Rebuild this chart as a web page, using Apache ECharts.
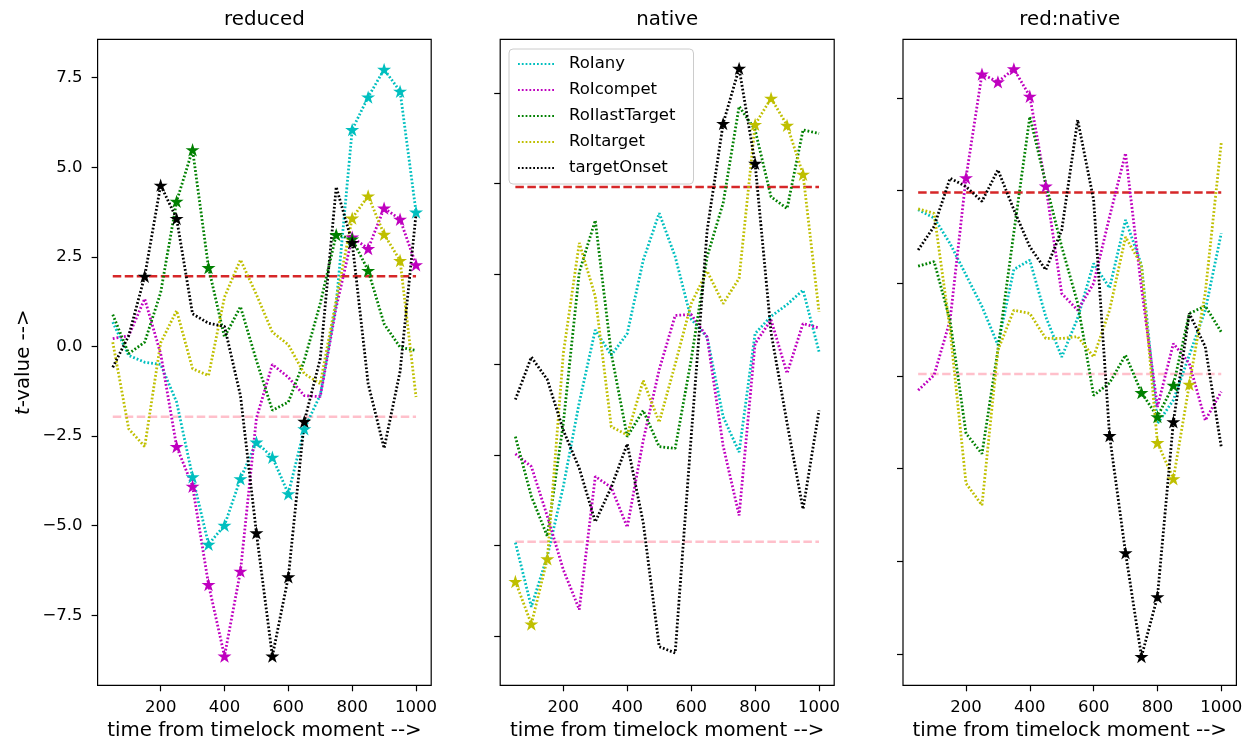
<!DOCTYPE html>
<html>
<head>
<meta charset="utf-8">
<title>t-values per time point</title>
<script src="https://cdn.jsdelivr.net/npm/echarts@6/dist/echarts.min.js"></script>
<style>
  html, body { margin: 0; padding: 0; background: #fff; }
  #chart { width: 1249px; height: 742px; }
</style>
</head>
<body>
<div id="chart"></div>
<script>
// time points (ms from timelock moment)
const times = [50, 100, 150, 200, 250, 300, 350, 400, 450, 500,
               550, 600, 650, 700, 750, 800, 850, 900, 950, 1000];

const seriesNames = ['RoIany', 'RoIcompet', 'RoIlastTarget', 'RoItarget', 'targetOnset'];

// tick values
const xTicks = [200, 400, 600, 800, 1000];
const reducedYTicks = [-7.5, -5, -2.5, 0, 2.5, 5, 7.5];
const nativeYTicks = [-3, -2, -1, 0, 1, 2, 3];
const ratioYTicks = [-8, -6, -4, -2, 0, 2, 4];

// significance threshold (dashed lines)
const threshold = 1.96;

// --- reduced ---
const reducedAny    = [0.68, -0.25, -0.44, -0.5, -1.55, -3.64, -5.52, -4.99, -3.69, -2.67, -3.09, -4.11, -2.3, -1.35, 1.2, 6.05, 6.96, 7.73, 7.12, 3.75];
const reducedCompet = [0.22, 0.3, 1.33, -0.2, -2.79, -3.9, -6.64, -8.64, -6.27, -2.0, -0.5, -0.86, -1.37, -1.4, 1.1, 3.05, 2.73, 3.86, 3.55, 2.28];
const reducedLast   = [0.89, -0.2, 0.12, 1.5, 4.05, 5.49, 2.2, 0.26, 1.11, -0.39, -1.78, -1.55, -0.39, 1.2, 3.12, 3.0, 2.12, 0.63, -0.02, -0.11];
const reducedTarget = [0.12, -2.3, -2.79, 0.1, 1.0, -0.62, -0.81, 1.38, 2.42, 1.45, 0.4, 0.05, -0.76, -1.04, 1.3, 3.58, 4.2, 3.13, 2.4, -1.41];
const reducedOnset  = [-0.58, 0.3, 1.96, 4.5, 3.57, 0.91, 0.65, 0.56, -1.37, -5.2, -8.64, -6.43, -2.09, -0.34, 4.45, 2.9, -1.04, -2.84, -0.7, 3.7];
const reducedStars = [
  [300, 350, 400, 450, 500, 550, 600, 650, 800, 850, 900, 950, 1000],
  [250, 300, 350, 400, 450, 800, 850, 900, 950, 1000],
  [250, 300, 350, 750, 800, 850],
  [800, 850, 900, 950],
  [150, 200, 250, 500, 550, 600, 650, 800]
];

// --- native ---
const nativeAny    = [-1.97, -2.68, -2.12, -1.35, -0.42, 0.38, 0.1, 0.34, 1.15, 1.67, 1.19, 0.5, 0.3, -0.58, -0.97, 0.34, 0.53, 0.66, 0.82, 0.14];
const nativeCompet = [-0.99, -1.13, -1.68, -2.27, -2.71, -1.24, -1.36, -1.8, -0.84, -0.06, 0.54, 0.55, 0.3, -0.9, -1.67, 0.23, 0.49, -0.1, 0.45, 0.4];
const nativeLast   = [-0.8, -1.46, -1.9, -0.65, 1.02, 1.59, 0.12, -0.8, -0.51, -0.91, -0.93, 0.05, 1.19, 1.78, 2.85, 2.59, 1.85, 1.72, 2.59, 2.55];
const nativeTarget = [-2.4, -2.87, -2.15, 0.12, 1.34, 0.75, -0.69, -0.78, -0.18, -0.64, 0.0, 0.67, 1.03, 0.67, 0.95, 2.65, 2.94, 2.64, 2.1, 0.58];
const nativeOnset  = [-0.39, 0.08, -0.17, -0.73, -1.15, -1.74, -1.36, -0.88, -1.75, -3.12, -3.19, -0.8, 1.48, 2.66, 3.27, 2.22, 0.35, -0.65, -1.6, -0.51];
const nativeStars = [
  [],
  [],
  [],
  [50, 100, 150, 800, 850, 900, 950],
  [700, 750, 800]
];

// --- red:native ---
const ratioAny    = [1.59, 1.41, 0.86, 0.18, -0.5, -1.33, 0.3, 0.5, -0.72, -1.59, -0.75, 0.43, -0.1, 1.37, 0.4, -3.03, -2.52, -1.55, -0.58, 1.08];
const ratioCompet = [-2.31, -1.98, -0.8, 2.28, 4.52, 4.35, 4.63, 4.04, 2.1, -0.22, -0.58, 0.0, 1.44, 2.81, -0.1, -2.67, -1.3, -1.73, -2.96, -2.34];
const ratioLast   = [0.37, 0.47, -0.8, -3.24, -3.68, -1.44, 1.1, 3.6, 2.16, 0.79, -0.43, -2.42, -2.15, -1.55, -2.36, -2.88, -2.2, -0.65, -0.49, -1.05];
const ratioTarget = [1.61, 1.51, -1.0, -4.32, -4.79, -1.44, -0.58, -0.65, -1.19, -1.19, -1.15, -1.59, -0.58, 1.0, 0.4, -3.44, -4.22, -2.18, -0.2, 3.03];
const ratioOnset  = [0.72, 1.23, 2.27, 2.09, 1.77, 2.45, 1.59, 0.79, 0.29, 1.15, 3.53, 1.8, -3.29, -5.82, -8.06, -6.77, -2.99, -0.65, -1.37, -3.53];
const ratioStars = [
  [],
  [200, 250, 300, 350, 400, 450],
  [750, 800, 850],
  [800, 850, 900],
  [650, 700, 750, 800, 850]
];

const COLORS = ['#00bfbf', '#bf00bf', '#008000', '#bfbf00', '#000000'];
const FONT = 'DejaVu Sans';
const STAR = 'path://M50,0L61.2,34.5L97.6,34.5L68.2,55.9L79.4,90.5L50,69.1L20.6,90.5L31.8,55.9L2.4,34.5L38.8,34.5Z';

const panels = [
  { title: 'reduced', values: [reducedAny, reducedCompet, reducedLast, reducedTarget, reducedOnset],
    stars: reducedStars, yMin: -9.453, yMax: 8.571, yTicks: reducedYTicks, labels: true, left: 97.6, width: 333.6 },
  { title: 'native', values: [nativeAny, nativeCompet, nativeLast, nativeTarget, nativeOnset],
    stars: nativeStars, yMin: -3.547, yMax: 3.591, yTicks: nativeYTicks, labels: false, left: 500.2, width: 334 },
  { title: 'red:native', values: [ratioAny, ratioCompet, ratioLast, ratioTarget, ratioOnset],
    stars: ratioStars, yMin: -8.68, yMax: 5.27, yTicks: ratioYTicks, labels: false, left: 903, width: 333.4 }
];

const fmtTick = v => (v < 0 ? '\u2212' : '') + Math.abs(v).toFixed(1);

const chart = echarts.init(document.getElementById('chart'), null, { renderer: 'canvas' });

const series = [];
panels.forEach((p, i) => {
  // dashed threshold lines
  [[threshold, '#d62728'], [-threshold, '#ffc0cb']].forEach(([v, c]) => {
    series.push({
      type: 'line', name: 'thr' + i + v, xAxisIndex: i, yAxisIndex: i,
      data: [[times[0], v], [times[times.length - 1], v]],
      symbol: 'none', silent: true,
      lineStyle: { color: c, width: 2.5, type: [8.5, 3.5] }
    });
  });
  p.values.forEach((vals, j) => {
    series.push({
      type: 'line', name: seriesNames[j], xAxisIndex: i, yAxisIndex: i,
      data: times.map((t, k) => ({
        value: [t, vals[k]],
        symbol: p.stars[j].includes(t) ? STAR : 'none'
      })),
      symbol: 'none', showSymbol: true, symbolSize: 14, symbolKeepAspect: true,
      silent: true,
      lineStyle: { color: COLORS[j], width: 2.8, type: [1.8, 2.0], cap: 'butt' },
      itemStyle: { color: COLORS[j] },
      emphasis: { disabled: true }
    });
  });
});

const option = {
  animation: false,
  backgroundColor: '#fff',
  title: panels.map(p => ({
    text: p.title, left: p.left + p.width / 2, top: 10, textAlign: 'center', padding: 0,
    textStyle: { fontFamily: FONT, fontSize: 19.8, fontWeight: 'normal', color: '#000' }
  })),
  legend: {
    data: seriesNames,
    orient: 'vertical', left: 509, top: 49,
    itemWidth: 37, itemHeight: 14, itemGap: 8,
    padding: [6, 18, 7, 8],
    backgroundColor: 'rgba(255,255,255,0.8)',
    borderColor: '#cccccc', borderWidth: 1, borderRadius: 4,
    selectedMode: false,
    itemStyle: { opacity: 0 },
    textStyle: { fontFamily: FONT, fontSize: 16.5, color: '#000', lineHeight: 18, padding: [0, 0, 0, 9] }
  },
  grid: panels.map(p => ({
    left: p.left, top: 39.3, width: p.width, height: 646,
    outerBoundsMode: 'none', containLabel: false,
    show: true, borderColor: '#000', borderWidth: 1.2, backgroundColor: 'transparent'
  })),
  xAxis: panels.map((p, i) => ({
    gridIndex: i, type: 'value', min: 2.5, max: 1047.5,
    name: 'time from timelock moment -->', nameLocation: 'middle', nameGap: 36,
    nameTextStyle: { fontFamily: FONT, fontSize: 19.8, color: '#000' },
    axisLine: { show: false, onZero: false },
    axisTick: { show: true, length: 6, customValues: xTicks, lineStyle: { color: '#000', width: 1.2 } },
    axisLabel: { customValues: xTicks, formatter: v => String(v), margin: 14,
                 fontFamily: FONT, fontSize: 16.5, color: '#000' },
    splitLine: { show: false }
  })),
  yAxis: panels.map((p, i) => ({
    gridIndex: i, type: 'value', min: p.yMin, max: p.yMax,
    name: i === 0 ? '{i|t}-value -->' : '',
    nameLocation: 'middle', nameGap: 64, nameRotate: 90,
    nameTextStyle: {
      fontFamily: FONT, fontSize: 19.8, color: '#000',
      rich: { i: { fontFamily: FONT, fontSize: 19.8, fontStyle: 'italic', color: '#000' } }
    },
    axisLine: { show: false, onZero: false },
    axisTick: { show: true, length: 6, customValues: p.yTicks, lineStyle: { color: '#000', width: 1.2 } },
    axisLabel: { show: p.labels, customValues: p.yTicks, formatter: fmtTick, margin: 15,
                 fontFamily: FONT, fontSize: 16.5, color: '#000' },
    splitLine: { show: false }
  })),
  series: series
};

chart.setOption(option);
window.addEventListener('resize', () => chart.resize());
</script>
</body>
</html>
